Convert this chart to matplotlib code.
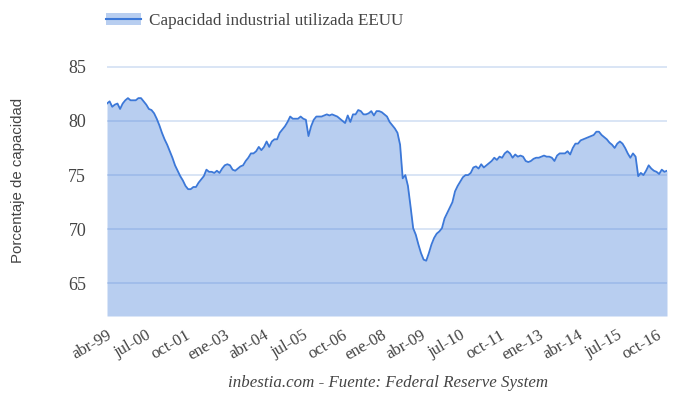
import numpy as np
import pandas as pd
import matplotlib
matplotlib.use('Agg')
matplotlib.rcParams['font.family'] = 'serif'
matplotlib.rcParams['font.serif'] = ['Liberation Serif', 'DejaVu Serif']
import matplotlib.pyplot as plt
from matplotlib.patches import Patch
from matplotlib.lines import Line2D

# monthly capacity utilisation, abr-99 .. feb-17
values = [
    81.6, 81.8, 81.3, 81.5, 81.6, 81.1, 81.6, 81.9, 82.1,          # 1999
    81.9, 81.9, 81.9, 82.1, 82.1, 81.8, 81.5, 81.1, 81.0, 80.7, 80.2, 79.6,  # 2000
    78.9, 78.3, 77.8, 77.2, 76.6, 75.9, 75.4, 74.9, 74.5, 74.0, 73.7, 73.7,  # 2001
    73.9, 73.9, 74.3, 74.6, 74.9, 75.5, 75.3, 75.3, 75.2, 75.4, 75.2, 75.6,  # 2002
    75.9, 76.0, 75.9, 75.5, 75.4, 75.6, 75.8, 75.9, 76.3, 76.6, 77.0, 77.0,  # 2003
    77.2, 77.6, 77.3, 77.6, 78.1, 77.6, 78.1, 78.3, 78.3, 78.9, 79.2, 79.5,  # 2004
    79.9, 80.4, 80.2, 80.2, 80.2, 80.4, 80.2, 80.1, 78.6, 79.5, 80.1, 80.4,  # 2005
    80.4, 80.4, 80.5, 80.6, 80.5, 80.6, 80.5, 80.4, 80.2, 80.0, 79.8, 80.5,  # 2006
    79.9, 80.6, 80.6, 81.0, 80.9, 80.6, 80.6, 80.7, 80.9, 80.5, 80.9, 80.9,  # 2007
    80.8, 80.6, 80.4, 79.9, 79.6, 79.3, 78.9, 77.8, 74.7, 75.0, 74.0, 72.1,  # 2008
    70.1, 69.5, 68.6, 67.8, 67.2, 67.1, 67.8, 68.6, 69.2, 69.6, 69.8, 70.1,  # 2009
    71.0, 71.5, 72.0, 72.5, 73.5, 74.0, 74.4, 74.8, 75.0, 75.0, 75.2, 75.7,  # 2010
    75.8, 75.6, 76.0, 75.7, 75.9, 76.1, 76.3, 76.6, 76.4, 76.7, 76.6, 77.0,  # 2011
    77.2, 77.0, 76.6, 76.9, 76.7, 76.8, 76.7, 76.3, 76.2, 76.3, 76.5, 76.6,  # 2012
    76.6, 76.7, 76.8, 76.7, 76.7, 76.6, 76.3, 76.8, 77.0, 77.0, 77.0, 77.2,  # 2013
    76.9, 77.5, 77.9, 77.9, 78.2, 78.3, 78.4, 78.5, 78.6, 78.7, 79.0, 79.0,  # 2014
    78.7, 78.5, 78.3, 78.0, 77.8, 77.5, 77.9, 78.1, 77.9, 77.5, 77.0, 76.6,  # 2015
    77.0, 76.7, 74.9, 75.2, 75.0, 75.4, 75.9, 75.6, 75.4, 75.3, 75.1, 75.5,  # 2016
    75.3, 75.4,                                                              # 2017
]
months = pd.date_range('1999-04-01', periods=len(values), freq='MS')

mes = ['ene', 'feb', 'mar', 'abr', 'may', 'jun', 'jul', 'ago', 'sep', 'oct', 'nov', 'dic']
tick_idx = list(range(0, len(values), 15))
tick_labels = ['{}-{:02d}'.format(mes[months[i].month - 1], months[i].year % 100) for i in tick_idx]
yticks = [65, 70, 75, 80, 85]

line_color = '#3c78d8'
fill_color = '#3c78d8'
text_color = '#444444'

fig = plt.figure(figsize=(6.8, 3.99), dpi=100)
ax = fig.add_axes([107 / 680, 1 - 316 / 399, 560 / 680, (316 - 45) / 399])

x = np.arange(len(values))
ax.fill_between(x, values, 62, color=fill_color, alpha=0.36, linewidth=0, zorder=2)
ax.plot(x, values, color=line_color, linewidth=1.3, zorder=3)

ax.set_xlim(0, len(values) - 1)
ax.set_ylim(62, 87)
ax.set_yticks(yticks)
ax.set_yticklabels([str(v) for v in yticks], fontsize=13, color=text_color)
ax.set_xticks(tick_idx)
ax.set_xticklabels(tick_labels, fontsize=12, color=text_color, rotation=30,
                   ha='right', rotation_mode='anchor')
ax.tick_params(axis='both', length=0)
ax.tick_params(axis='y', pad=15)
ax.tick_params(axis='x', pad=8)
ax.yaxis.grid(True, color='#d3e0f3', linewidth=1.2, zorder=1)
ax.set_axisbelow(True)
for s in ax.spines.values():
    s.set_visible(False)

fig.text(18 / 680, 1 - 180 / 399, 'Porcentaje de capacidad', rotation=90,
         ha='center', va='center', fontsize=10.8, color=text_color,
         family=['Liberation Sans', 'DejaVu Sans'])

handle = (Patch(facecolor=fill_color, alpha=0.36, edgecolor='none'),
          Line2D([], [], color=line_color, linewidth=1.5))
fig.legend([handle], ['Capacidad industrial utilizada EEUU'],
           loc='upper left', bbox_to_anchor=(91 / 680, 1.005), frameon=False,
           fontsize=12.3, labelcolor=text_color, handlelength=2.0, handletextpad=0.5)

fig.text(388 / 680, 1 - 383 / 399, 'inbestia.com - Fuente: Federal Reserve System',
         ha='center', va='center', fontsize=12.2, style='italic', color=text_color)

fig.savefig('out.png', dpi=100)
